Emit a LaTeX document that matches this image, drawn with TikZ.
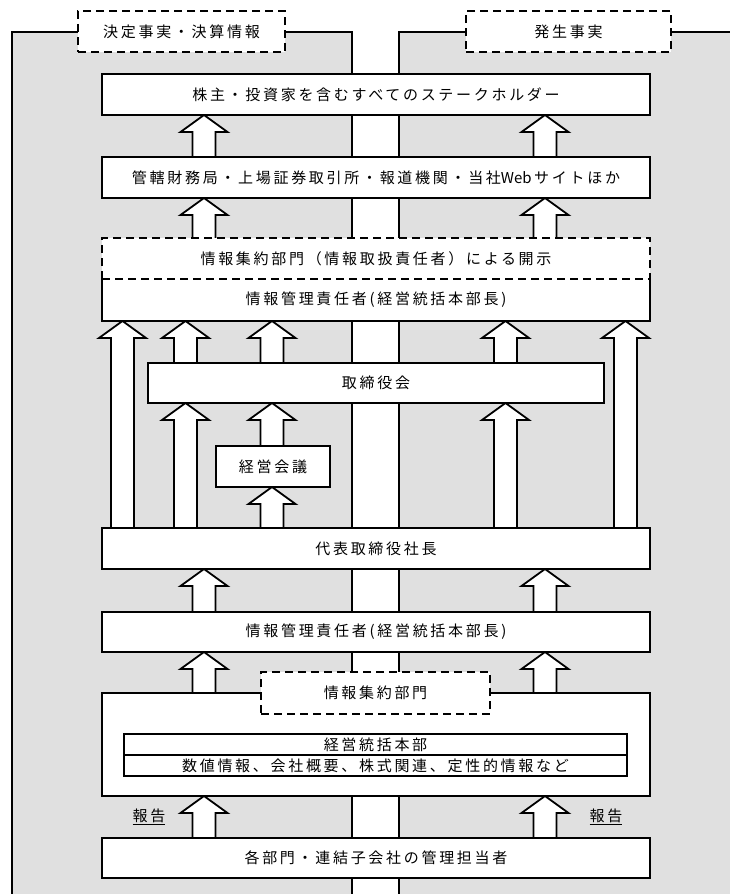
\documentclass[tikz,border=0pt]{standalone}
\usepackage{fontspec}
\setmainfont{Noto Sans CJK JP}[LetterSpace=18]
\usetikzlibrary{calc}
\pgfdeclarelayer{bg}
\pgfsetlayers{bg,main}
\definecolor{panelgray}{RGB}{224,224,224}
\tikzset{
  box/.style={draw, line width=1.8pt, fill=white, minimum width=548pt, minimum height=41pt,
    inner sep=0pt, outer sep=0pt, font=\fontsize{15}{17}\selectfont},
  dbox/.style={box, line width=2.3pt, dash pattern=on 8pt off 5pt},
  arr/.style={draw, line width=1.8pt, fill=white, line join=miter},
  panelline/.style={line width=1.8pt},
  lbl/.style={inner sep=0pt, font=\fontsize{15}{17}\selectfont},
}
% block arrow at x=#1 from node #2 (bottom) up to node #3 (top)
\newcommand\uparr[3]{%
  \draw[arr] ($(#2.north -| #1,0)+(-11.5,0)$) -- ($(#3.south -| #1,0)+(-11.5,17)$)
    -- ($(#3.south -| #1,0)+(-23.5,17)$) -- (#3.south -| #1,0)
    -- ($(#3.south -| #1,0)+(23.5,17)$) -- ($(#3.south -| #1,0)+(11.5,17)$)
    -- ($(#2.north -| #1,0)+(11.5,0)$);%
}
\begin{document}
\begin{tikzpicture}[x=1pt,y=-1pt]
\useasboundingbox (0,0) rectangle (729,894);
\clip (0,0) rectangle (729,894);

% boxes
\node[box] (b1) at (376,94.5) {株主・投資家を含むすべてのステークホルダー};
\node[box] (b2) at (376,177.5) {管轄財務局・上場証券取引所・報道機関・当社{\addfontfeatures{LetterSpace=0}Web}\,サイトほか};
\node[box, draw=none, minimum height=42pt] (b4) at (376,300) {情報管理責任者(経営統括本部長)};
\draw[line width=1.8pt] (b4.north west) -- (b4.south west) -- (b4.south east) -- (b4.north east);
\node[dbox] (b3) at (376,258.5) {情報集約部門（情報取扱責任者）による開示};
\node[box, minimum width=456pt, minimum height=40pt] (b5) at (376,383) {取締役会};
\node[box, minimum width=114pt] (b6) at (273,466.5) {経営会議};
\node[box] (b7) at (376,548.5) {代表取締役社長};
\node[box, minimum height=40pt] (b8) at (376,632) {情報管理責任者(経営統括本部長)};
\node[box, minimum height=103pt] (b9) at (376,744.5) {};
\node[dbox, minimum width=229pt, minimum height=42pt] (b10) at (375.5,693) {情報集約部門};
\node[box, minimum width=503pt, minimum height=21pt] (r1) at (375.5,744.5) {経営統括本部};
\node[box, minimum width=503pt, minimum height=21pt] (r2) at (375.5,765.5) {数値情報、会社概要、株式関連、定性的情報など};
\node[box, minimum height=40pt] (b11) at (376,858) {各部門・連結子会社の管理担当者};

% top labels
\node[dbox, minimum width=207pt] (t1) at (181.5,31.5) {決定事実・決算情報};
\node[dbox, minimum width=205pt] (t2) at (568.5,31.5) {発生事実};

% report labels
\node[lbl] (rep1) at (149,817) {\underline{報告}};
\node[lbl] (rep2) at (606,817) {\underline{報告}};

\begin{pgfonlayer}{bg}
  % panels
  \fill[panelgray] (12,32) rectangle (352,900);
  \fill[panelgray] (399,32) rectangle (740,900);
  \draw[panelline] (12,900) -- (12,32) -- (352,32) -- (352,900);
  \draw[panelline] (399,900) -- (399,32) -- (740,32);
  % arrows
  \uparr{204}{b2}{b1}
  \uparr{545}{b2}{b1}
  \uparr{204}{b3}{b2}
  \uparr{545}{b3}{b2}
  \uparr{122.5}{b7}{b4}
  \uparr{625.5}{b7}{b4}
  \uparr{185.5}{b5}{b4}
  \uparr{272}{b5}{b4}
  \uparr{505.5}{b5}{b4}
  \uparr{185.5}{b7}{b5}
  \uparr{505.5}{b7}{b5}
  \uparr{272}{b6}{b5}
  \uparr{272}{b7}{b6}
  \uparr{204}{b8}{b7}
  \uparr{545}{b8}{b7}
  \uparr{204}{b9}{b8}
  \uparr{545}{b9}{b8}
  \uparr{204}{b11}{b9}
  \uparr{545}{b11}{b9}
\end{pgfonlayer}
\end{tikzpicture}
\end{document}
